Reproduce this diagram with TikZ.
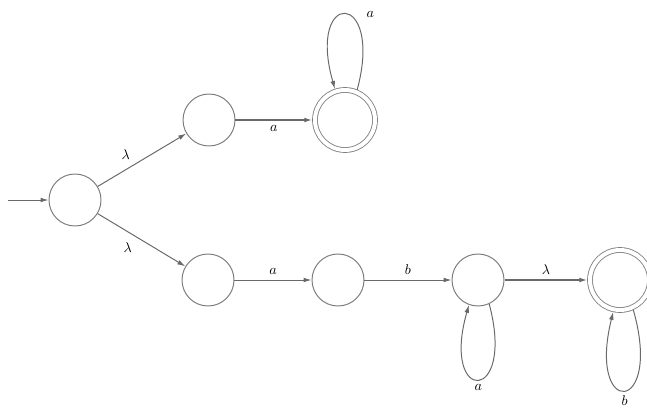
\documentclass[tikz,border=0pt]{standalone}
\usepackage{amsmath,amssymb}
\usepackage{xcolor}
\usepackage{tikz}
\usetikzlibrary{arrows.meta, positioning}
\definecolor{edgegray}{RGB}{105, 105, 105}
\definecolor{nodegray}{RGB}{125, 125, 125}
\tikzset{
  stateblock/.style={
    circle, draw=nodegray, line width=0.7pt,
    minimum size=1.3cm, inner sep=0pt
  },
  acceptblock/.style={
    circle, draw=nodegray, line width=0.6pt,
    double, double distance=0.1cm, outer sep=0.065cm,
    minimum size=1.5cm, inner sep=0pt
  },
  flowline/.style={
    draw=edgegray, -{Latex[length=2mm, width=1.2mm]}, line width=0.7pt
  },
  boldflow/.style={flowline, line width=1.1pt}
}

\begin{document}
\begin{tikzpicture}[node distance=2cm and 3cm, on grid]
  \useasboundingbox (-1.875,-5.275) rectangle (14.3,5);

  % start state
  \node[stateblock] (q0) {};
  \coordinate[left=1.675cm of q0] (start);

  % upper branch
  \node[stateblock, above right=2cm and 3.35cm of q0] (q1) {};
  \node[acceptblock, right=3.4cm of q1] (q2) {};

  % lower branch
  \node[stateblock, below right=2cm and 3.325cm of q0] (q3) {};
  \node[stateblock, right=3.25cm of q3] (q4) {};
  \node[stateblock, right=3.5cm of q4] (q5) {};
  \node[acceptblock, right=3.55cm of q5] (q6) {};

  % transitions
  \draw[flowline] (start) -- (q0);
  \draw[flowline] (q0) -- node[above left, pos=0.42] {$\lambda$} (q1);
  \draw[flowline] (q0) -- node[below left, pos=0.45] {$\lambda$} (q3);
  \draw[boldflow] (q1) -- node[below] {$a$} (q2);
  \draw[flowline] (q3) -- node[above] {$a$} (q4);
  \draw[flowline] (q4) -- node[above] {$b$} (q5);
  \draw[boldflow] (q5) -- node[above] {$\lambda$} (q6);

  % self loops
  \draw[flowline] (q2.68) .. controls +(75:2.6) and +(106:2.6) .. node[right=0.4cm] {$a$} (q2.108);
  \draw[flowline] (q5.-65) .. controls +(-75:2.6) and +(-106:2.6) .. node[below] {$a$} (q5.-110);
  \draw[flowline] (q6.-66) .. controls +(-74:2.75) and +(-104:2.75) .. node[below] {$b$} (q6.-102);
\end{tikzpicture}
\end{document}
